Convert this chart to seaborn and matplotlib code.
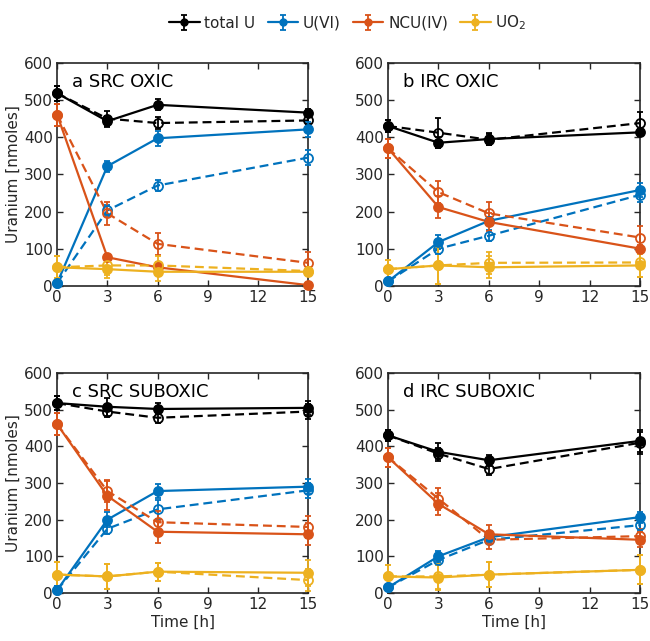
import numpy as np
import pandas as pd
import matplotlib
matplotlib.use("Agg")
import matplotlib.pyplot as plt
import seaborn as sns

# data
time_h = [0, 3, 6, 15]
species = ["total U", "U(VI)", "NCU(IV)", "UO2"]
panel_titles = ["a SRC OXIC", "b IRC OXIC", "c SRC SUBOXIC", "d IRC SUBOXIC"]

# values per panel: species -> (solid, dashed)
a_vals = {"total U": ([518, 443, 487, 466], [518, 450, 438, 445]),
          "U(VI)": ([8, 322, 397, 421], [8, 203, 270, 345]),
          "NCU(IV)": ([460, 77, 50, 2], [460, 195, 113, 62]),
          "UO2": ([50, 45, 38, 38], [50, 55, 55, 40])}
b_vals = {"total U": ([430, 385, 395, 413], [430, 412, 393, 438]),
          "U(VI)": ([12, 118, 175, 258], [12, 100, 135, 245]),
          "NCU(IV)": ([370, 212, 172, 100], [370, 252, 195, 130]),
          "UO2": ([45, 55, 50, 55], [45, 55, 62, 63])}
c_vals = {"total U": ([518, 508, 502, 505], [518, 495, 478, 495]),
          "U(VI)": ([8, 200, 278, 290], [8, 175, 228, 280]),
          "NCU(IV)": ([460, 265, 167, 160], [460, 278, 193, 180]),
          "UO2": ([50, 45, 58, 55], [50, 45, 58, 35])}
d_vals = {"total U": ([430, 385, 362, 415], [430, 380, 338, 410]),
          "U(VI)": ([15, 100, 152, 207], [15, 90, 145, 185]),
          "NCU(IV)": ([370, 243, 160, 145], [370, 257, 145, 155]),
          "UO2": ([45, 42, 50, 63], [45, 45, 50, 63])}

# error bars, same layout
a_err = {"total U": ([20, 15, 15, 10], [20, 20, 15, 10]),
         "U(VI)": ([5, 15, 20, 20], [5, 15, 15, 20]),
         "NCU(IV)": ([30, 10, 5, 3], [30, 30, 30, 30]),
         "UO2": ([30, 25, 25, 10], [30, 25, 25, 10])}
b_err = {"total U": ([15, 15, 15, 10], [15, 40, 15, 30]),
         "U(VI)": ([10, 20, 10, 20], [10, 15, 15, 20]),
         "NCU(IV)": ([25, 30, 25, 10], [25, 30, 30, 30]),
         "UO2": ([25, 50, 30, 30], [25, 50, 30, 40])}
c_err = {"total U": ([20, 25, 15, 20], [20, 15, 15, 20]),
         "U(VI)": ([10, 20, 20, 20], [10, 15, 25, 20]),
         "NCU(IV)": ([30, 40, 30, 30], [30, 30, 30, 30]),
         "UO2": ([35, 35, 25, 35], [35, 35, 25, 30])}
d_err = {"total U": ([15, 25, 15, 30], [15, 15, 15, 30]),
         "U(VI)": ([10, 15, 10, 15], [10, 15, 10, 15]),
         "NCU(IV)": ([25, 30, 25, 20], [25, 30, 25, 20]),
         "UO2": ([30, 35, 35, 40], [30, 35, 35, 40])}

colors = {"total U": "#000000", "U(VI)": "#0072BD",
          "NCU(IV)": "#D95319", "UO2": "#EDB120"}
labels = {"total U": "total U", "U(VI)": "U(VI)",
          "NCU(IV)": "NCU(IV)", "UO2": "UO$_2$"}

sns.set_style("ticks")
plt.rcParams['font.family'] = ['DejaVu Sans']
txt = "#262626"

fig = plt.figure(figsize=(6.5, 6.41), dpi=100)
boxes = [[0.088, 0.554, 0.386, 0.348], [0.597, 0.554, 0.388, 0.348],
         [0.088, 0.075, 0.386, 0.343], [0.597, 0.075, 0.388, 0.343]]
all_vals = [a_vals, b_vals, c_vals, d_vals]
all_err = [a_err, b_err, c_err, d_err]

for i in range(4):
    ax = fig.add_axes(boxes[i])
    rows = []
    for sp in species:
        for k, style in enumerate(["solid", "dashed"]):
            for t, v in zip(time_h, all_vals[i][sp][k]):
                rows.append({"time": t, "value": v, "species": sp, "style": style})
    df = pd.DataFrame(rows)
    sns.lineplot(data=df, x="time", y="value", hue="species", style="style",
                 palette=colors, dashes={"solid": "", "dashed": (4, 2.2)},
                 linewidth=1.6, ax=ax, legend=False)
    for sp in species:
        for k in range(2):
            ax.errorbar(time_h, all_vals[i][sp][k], yerr=all_err[i][sp][k],
                        fmt='o', ms=6.5, mew=1.3, color=colors[sp],
                        mfc=colors[sp] if k == 0 else 'none',
                        elinewidth=1.3, capsize=2.5, capthick=1.3, zorder=3,
                        clip_on=False)
    ax.set_xlim(0, 15)
    ax.set_ylim(0, 600)
    ax.set_xticks([0, 3, 6, 9, 12, 15])
    ax.set_yticks(range(0, 601, 100))
    ax.tick_params(direction='in', top=True, right=True, labelsize=11,
                   colors=txt, length=4, width=1, pad=3)
    for s in ax.spines.values():
        s.set_color(txt)
        s.set_linewidth(1.2)
    ax.set_xlabel("Time [h]" if i >= 2 else "", fontsize=11, color=txt, labelpad=2)
    ax.set_ylabel("Uranium [nmoles]" if i % 2 == 0 else "", fontsize=11,
                  color=txt, labelpad=2)
    ax.text(0.06, 0.955, panel_titles[i], transform=ax.transAxes, va='top',
            ha='left', fontsize=13, color="#000000")
    if i == 0:
        handles = []
        for sp in species:
            h = ax.errorbar([np.nan], [np.nan], yerr=[1], fmt='-o', ms=5,
                            color=colors[sp], lw=1.6, elinewidth=1.3,
                            capsize=2.5, capthick=1.3)
            handles.append(h)

# legend
fig.legend(handles, [labels[s] for s in species], loc='upper center',
           bbox_to_anchor=(0.535, 1.0), ncol=4, frameon=False, fontsize=11,
           handlelength=2.0, handletextpad=0.3, columnspacing=0.8)

fig.savefig("out.png", dpi=100)
